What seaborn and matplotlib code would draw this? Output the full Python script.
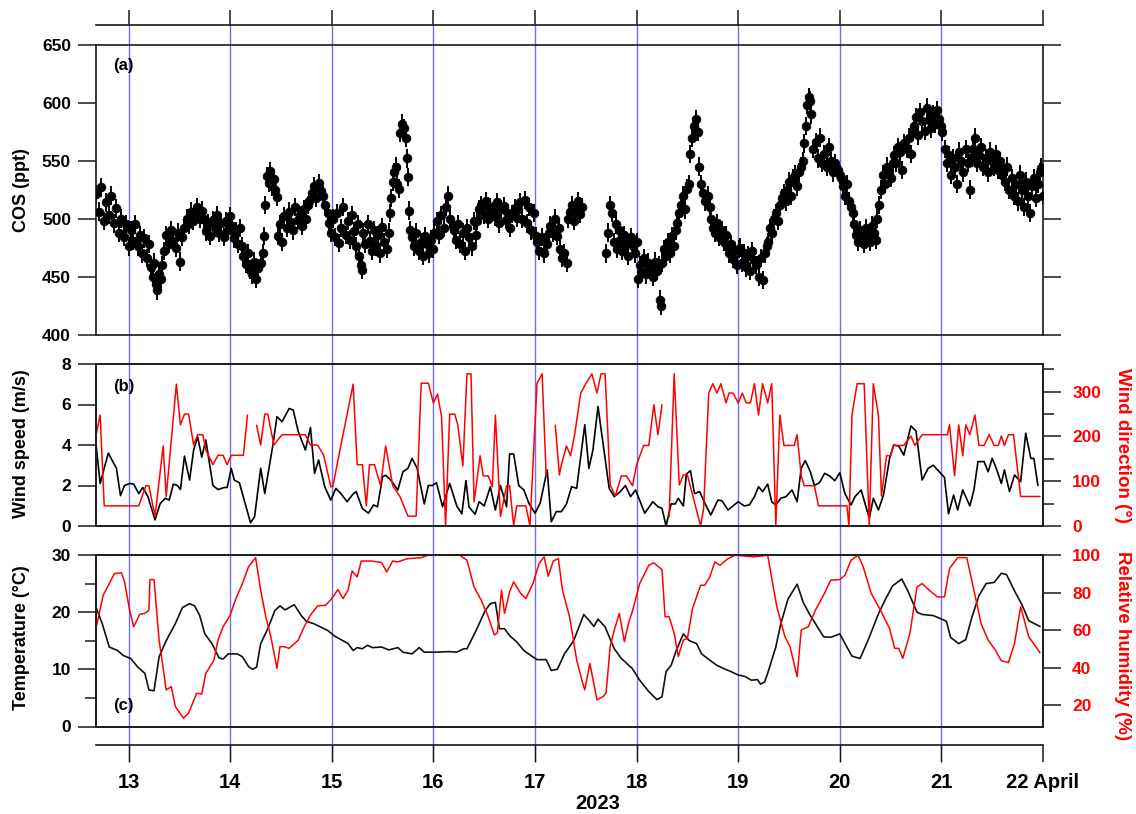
import numpy as np
import pandas as pd
import matplotlib
matplotlib.use("Agg")
import matplotlib.pyplot as plt
from matplotlib.ticker import MultipleLocator, FixedLocator
import seaborn as sns

# ---------------- data ----------------
day_ticks = [13, 14, 15, 16, 17, 18, 19, 20, 21, 22]
day_labels = ["13", "14", "15", "16", "17", "18", "19", "20", "21", "22 April"]
year_label = "2023"

# COS (ppt): time ranges (day of April) and values
cos_ranges = [
    (12.68, 13.00), (13.02, 13.20), (13.22, 13.33), (13.35, 13.53), (13.55, 13.72), (13.74, 14.00),
    (14.02, 14.12), (14.13, 14.32), (14.33, 14.46), (14.47, 14.77), (14.78, 14.96), (14.97, 15.26),
    (15.27, 15.30), (15.31, 15.56), (15.57, 15.66), (15.67, 15.73), (15.74, 15.76), (15.77, 16.00),
    (16.01, 16.19), (16.20, 16.42), (16.43, 16.82), (16.83, 17.01), (17.02, 17.14), (17.15, 17.24),
    (17.25, 17.31), (17.32, 17.46),
    (17.70, 17.83), (17.84, 18.00), (18.01, 18.22), (18.23, 18.24), (18.25, 18.39), (18.40, 18.52),
    (18.53, 18.60), (18.61, 18.72), (18.73, 18.88), (18.89, 19.01), (19.02, 19.28), (19.29, 19.47),
    (19.48, 19.64), (19.65, 19.72), (19.74, 20.00), (20.01, 20.13), (20.14, 20.36), (20.37, 20.52),
    (20.53, 20.72), (20.73, 21.00), (21.01, 21.30), (21.31, 21.60), (21.61, 21.97), (21.98, 22.00),
]
cos_values = [
    [521, 506, 527, 498, 514, 503, 520, 496, 509, 488, 500, 484, 495, 476],
    [490, 481, 495, 476, 486, 470, 483, 466, 478],
    [458, 450, 462, 444, 438, 452, 448, 460],
    [472, 486, 478, 490, 481, 475, 488, 463, 484],
    [492, 500, 495, 506, 498, 504, 510, 500, 507],
    [500, 489, 496, 485, 499, 492, 503, 488, 496, 484, 498, 490, 502],
    [494, 483, 489, 478, 492, 476],
    [468, 461, 470, 456, 452, 463, 448, 457, 462, 470],
    [485, 512, 537, 531, 541, 528, 534, 525, 519],
    [485, 495, 480, 502, 492, 506, 497, 490, 510, 499, 503, 494, 508, 500, 512],
    [515, 522, 528, 518, 531, 524, 520, 512, 505],
    [496, 488, 500, 484, 505, 479, 492, 510, 486, 498, 482, 503, 489, 476, 495],
    [468, 460, 456],
    [488, 478, 495, 481, 472, 490, 476, 486, 470, 493, 480, 474, 488],
    [505, 518, 532, 540, 545, 530, 526],
    [574, 582, 578, 570],
    [552, 536, 507],
    [490, 484, 476, 488, 472, 480, 468, 485, 478, 470, 482, 474],
    [488, 498, 486, 503, 492, 510, 520, 500, 494],
    [490, 482, 495, 478, 488, 472, 492, 484, 476, 498, 486],
    [498, 508, 512, 503, 515, 500, 510, 506, 502, 514, 496, 508, 511, 499, 505, 492, 504, 509, 501],
    [508, 514, 500, 516, 496, 510, 490, 505, 485],
    [480, 472, 484, 470, 478, 488],
    [494, 488, 500, 485, 492],
    [474, 466, 470, 462],
    [500, 506, 512, 498, 508, 515, 504, 510],
    [470, 488, 512, 505, 480, 495, 474, 490],
    [482, 472, 486, 478, 468, 484, 476, 470, 480],
    [448, 460, 454, 466, 452, 462, 457, 450, 463, 455, 460],
    [430, 425],
    [462, 474, 468, 480, 470, 485, 476, 490],
    [496, 505, 512, 520, 508, 526, 530],
    [556, 570, 580, 586, 575],
    [545, 530, 522, 515, 520, 510],
    [500, 492, 488, 496, 484, 490, 480, 486],
    [476, 470, 478, 465, 472, 460, 474],
    [475, 462, 470, 458, 468, 455, 472, 464, 460, 450, 466, 447, 470, 476],
    [480, 492, 488, 500, 505, 498, 512, 518, 522, 515],
    [525, 532, 520, 535, 538, 528, 540, 545, 550],
    [565, 580, 598, 605, 602, 590],
    [560, 566, 552, 570, 548, 556, 545, 562, 550, 540, 548, 542, 538],
    [535, 528, 520, 530, 515, 510, 505],
    [495, 486, 480, 490, 484, 478, 492, 486, 480, 494, 488, 482],
    [500, 512, 525, 538, 530, 545, 540, 535, 548],
    [555, 548, 562, 558, 542, 565, 560, 570, 556, 575],
    [580, 588, 572, 592, 584, 576, 596, 585, 578, 590, 582, 594, 586, 580],
    [575, 560, 548, 555, 538, 552, 545, 530, 558, 550, 540, 560, 548, 525, 553],
    [560, 570, 548, 555, 562, 545, 552, 540, 558, 550, 545, 556, 542, 550, 538],
    [540, 532, 545, 525, 535, 520, 530, 515, 538, 525, 510, 532, 520, 505, 528, 535, 518, 530, 540],
    [544, 520],
]
cos_unc = 8.0

# Wind speed (m/s)
ws_t = [12.68, 12.72, 12.80, 12.88, 12.92, 12.96, 13.01, 13.05, 13.10, 13.14, 13.19, 13.26, 13.31, 13.36,
        13.40, 13.44, 13.48, 13.51, 13.55, 13.60, 13.64, 13.68, 13.72, 13.76, 13.83, 13.88, 13.94, 13.97,
        14.01, 14.04, 14.09, 14.20, 14.24, 14.30, 14.34, 14.42, 14.46, 14.51, 14.58, 14.62, 14.67, 14.74,
        14.79, 14.83, 14.87, 14.93, 14.99, 15.04, 15.09, 15.15, 15.21, 15.24, 15.30, 15.36, 15.41, 15.45,
        15.50, 15.53, 15.58, 15.65, 15.70, 15.75, 15.79, 15.84, 15.91, 15.95, 15.99, 16.03, 16.09, 16.16,
        16.23, 16.28, 16.32, 16.35, 16.41, 16.45, 16.50, 16.56, 16.61, 16.66, 16.72, 16.75, 16.79, 16.84,
        16.89, 16.94, 17.00, 17.05, 17.12, 17.16, 17.21, 17.26, 17.31, 17.36, 17.41, 17.49, 17.53, 17.57,
        17.62, 17.73, 17.78, 17.84, 17.89, 17.94, 17.99, 18.08, 18.16, 18.21, 18.25, 18.29, 18.34, 18.38,
        18.41, 18.46, 18.49, 18.53, 18.57, 18.62, 18.68, 18.73, 18.80, 18.84, 18.90, 18.96, 19.00, 19.06,
        19.11, 19.16, 19.20, 19.24, 19.29, 19.33, 19.37, 19.42, 19.47, 19.53, 19.58, 19.62, 19.66, 19.71,
        19.75, 19.80, 19.85, 19.90, 19.95, 20.00, 20.05, 20.11, 20.15, 20.21, 20.29, 20.33, 20.38, 20.43,
        20.49, 20.53, 20.58, 20.63, 20.70, 20.75, 20.81, 20.87, 20.92, 20.97, 21.03, 21.07, 21.12, 21.16,
        21.21, 21.28, 21.32, 21.36, 21.42, 21.46, 21.50, 21.54, 21.59, 21.62, 21.67, 21.72, 21.78, 21.83,
        21.88, 21.91, 21.95]
ws_v = [4.0, 2.1, 3.6, 2.85, 1.5, 2.0, 2.1, 2.07, 1.6, 1.9, 1.45, 0.3, 1.1, 1.37,
        1.28, 2.07, 2.0, 1.8, 3.45, 2.27, 3.75, 4.4, 3.4, 4.25, 2.0, 1.8, 1.9, 1.9,
        2.85, 2.27, 2.14, 0.16, 0.46, 2.85, 1.6, 4.0, 5.4, 5.15, 5.8, 5.73, 4.66, 3.75,
        4.87, 2.6, 3.26, 1.94, 1.28, 1.86, 1.6, 1.2, 1.58, 1.7, 0.87, 0.63, 1.04, 0.95,
        2.44, 2.5, 2.27, 1.78, 2.68, 2.85, 3.34, 2.85, 1.09, 2.0, 2.0, 2.14, 0.95, 2.1,
        0.99, 0.6, 2.24, 0.95, 0.58, 1.2, 0.99, 1.94, 0.79, 2.0, 0.95, 3.56, 3.56, 2.0,
        1.78, 1.12, 0.63, 1.12, 2.77, 0.21, 0.71, 0.71, 1.09, 1.94, 1.86, 5.0, 2.85, 3.75,
        5.9, 1.86, 1.45, 1.7, 2.0, 1.45, 1.78, 0.63, 1.2, 0.95, 0.87, 0.0, 1.09, 1.09,
        1.37, 0.99, 2.57, 2.73, 1.6, 1.7, 1.04, 0.54, 1.28, 1.25, 0.79, 1.04, 1.2, 0.99,
        1.04, 1.45, 1.94, 1.7, 2.07, 1.2, 1.04, 1.37, 1.45, 1.78, 1.2, 2.85, 3.23, 2.68,
        2.0, 2.14, 2.6, 2.47, 2.24, 2.63, 1.6, 1.04, 1.45, 1.78, 0.38, 1.37, 0.79, 1.53,
        3.34, 4.0, 3.95, 3.5, 4.94, 4.69, 2.27, 2.85, 3.0, 2.73, 2.4, 0.6, 1.53, 0.79,
        1.78, 0.99, 1.78, 3.18, 3.18, 2.68, 3.34, 2.85, 2.1, 2.77, 1.7, 2.52, 2.19, 4.58,
        3.34, 3.34, 2.0]

# Wind direction (deg); NaN marks a break in the record
wd_t = [12.68, 12.72, 12.76, 13.10, 13.17, 13.20, 13.26, 13.34, 13.37, 13.47, 13.51, 13.55, 13.59, 13.64,
        13.68, 13.73, 13.76, 13.83, 13.88, 13.93, 13.97, 14.01, 14.13, 14.17, 14.21,
        14.26, 14.30, 14.34, 14.37, 14.43, 14.51, 14.74, 14.79, 14.86, 14.92, 14.99, 15.01, 15.07, 15.21,
        15.25, 15.30, 15.34, 15.37, 15.42, 15.48, 15.53, 15.60, 15.67, 15.75, 15.83, 15.88, 15.95, 16.00,
        16.04, 16.08, 16.12, 16.16, 16.21, 16.24, 16.29, 16.33, 16.37, 16.40, 16.46, 16.49, 16.54, 16.58,
        16.61, 16.66, 16.72, 16.75, 16.79, 16.82, 16.91, 16.95, 17.02, 17.07, 17.11, 17.15,
        17.20, 17.24, 17.26, 17.31, 17.35, 17.39, 17.45, 17.50, 17.56, 17.61, 17.65, 17.69, 17.74, 17.79,
        17.85, 17.90, 17.96, 18.00, 18.07, 18.12, 18.17, 18.21, 18.25, 18.28,
        18.32, 18.37, 18.42, 18.46, 18.50, 18.63, 18.66, 18.71, 18.75, 18.79, 18.83, 18.88, 18.91, 18.95,
        19.00, 19.04, 19.08, 19.12, 19.16, 19.20, 19.24, 19.29, 19.33, 19.37, 19.41, 19.45, 19.55, 19.58,
        19.62, 19.65, 19.75, 19.79, 20.07, 20.09, 20.12, 20.17, 20.24, 20.29, 20.33, 20.38, 20.41, 20.46,
        20.50, 20.53, 20.63, 20.70, 20.74, 20.81, 21.06, 21.08, 21.13, 21.17, 21.21, 21.24, 21.28, 21.33,
        21.37, 21.42, 21.47, 21.52, 21.56, 21.59, 21.62, 21.66, 21.71, 21.78, 21.97]
wd_v = [204, 248, 45, 45, 90, 90, 21, 179, 66, 317, 226, 250, 250, 181,
        204, 204, 170, 137, 158, 158, 137, 158, 158, 248, np.nan,
        225, 181, 250, 250, 181, 204, 204, 181, 181, 158, 88, 88, 158, 317,
        137, 137, 45, 137, 137, 90, 179, 90, 66, 22, 22, 319, 319, 275,
        295, 245, 0, 250, 250, 226, 134, 340, 340, 54, 157, 112, 112, 88,
        248, 21, 90, 90, 0, 45, 45, 0, 319, 340, 112, np.nan,
        225, 114, 137, 179, 157, 204, 297, 318, 340, 297, 340, 340, 92, 67,
        112, 112, 90, 137, 180, 180, 271, 204, 271, np.nan,
        21, 340, 92, 114, 114, 0, 40, 297, 318, 297, 318, 275, 297, 297,
        275, 297, 275, 275, 318, 248, 318, 275, 318, 0, 248, 180, 180, 204,
        112, 90, 90, 45, 45, 0, 248, 318, 318, 0, 318, 248, 67, 157,
        157, 180, 180, 201, 180, 204, 204, 226, 112, 226, 157, 226, 204, 248,
        180, 180, 204, 180, 180, 201, 180, 204, 204, 66, 66]

# Temperature (deg C)
temp_t = [12.68, 12.74, 12.81, 12.89, 12.95, 13.02, 13.09, 13.16, 13.20, 13.25, 13.30, 13.37, 13.46, 13.53,
          13.60, 13.65, 13.70, 13.75, 13.82, 13.89, 13.93, 13.98, 14.07, 14.12, 14.18, 14.22, 14.26, 14.30,
          14.37, 14.44, 14.49, 14.54, 14.58, 14.63, 14.70, 14.75, 14.82, 14.89, 14.96, 15.02, 15.09, 15.16,
          15.21, 15.25, 15.30, 15.35, 15.40, 15.49, 15.56, 15.65, 15.70, 15.79, 15.86, 15.91, 16.02, 16.16,
          16.23, 16.30, 16.33, 16.42, 16.51, 16.56, 16.61, 16.65, 16.70, 16.75, 16.82, 16.89, 16.96, 17.02,
          17.11, 17.16, 17.22, 17.29, 17.38, 17.48, 17.52, 17.58, 17.62, 17.69, 17.78, 17.85, 17.96, 18.03,
          18.12, 18.20, 18.25, 18.29, 18.34, 18.39, 18.46, 18.52, 18.59, 18.64, 18.72, 18.79, 18.86, 18.93,
          19.00, 19.06, 19.13, 19.19, 19.22, 19.26, 19.29, 19.37, 19.42, 19.49, 19.58, 19.64, 19.71, 19.76,
          19.84, 19.91, 20.00, 20.07, 20.12, 20.20, 20.29, 20.38, 20.45, 20.52, 20.61, 20.67, 20.76, 20.81,
          20.92, 21.00, 21.05, 21.09, 21.17, 21.24, 21.30, 21.37, 21.44, 21.52, 21.59, 21.64, 21.72, 21.79,
          21.86, 21.97]
temp_v = [20.8, 18.0, 13.9, 13.3, 12.4, 11.9, 10.4, 9.3, 6.4, 6.25, 12.2, 15.0, 18.0, 20.8,
          21.5, 21.1, 19.4, 16.2, 14.5, 12.0, 11.8, 12.7, 12.7, 12.2, 10.5, 10.0, 10.4, 14.5,
          17.1, 20.3, 21.1, 20.4, 20.8, 21.3, 19.4, 18.4, 18.0, 17.4, 16.8, 15.9, 15.2, 14.5,
          13.3, 13.8, 13.6, 14.2, 13.8, 13.9, 13.4, 13.8, 13.0, 12.7, 13.8, 13.0, 13.0, 13.1,
          13.0, 13.6, 13.6, 16.8, 20.3, 21.5, 21.7, 17.1, 17.1, 15.9, 14.8, 13.3, 12.4, 11.7,
          11.7, 9.8, 10.0, 12.7, 15.0, 19.6, 18.8, 17.5, 18.8, 17.4, 13.6, 11.9, 10.1, 8.1,
          6.1, 4.7, 5.2, 9.6, 10.7, 13.3, 16.2, 15.0, 14.5, 12.7, 11.6, 10.7, 10.1, 9.6,
          9.0, 8.8, 8.1, 8.2, 7.4, 7.8, 9.3, 13.9, 18.0, 22.3, 24.9, 21.7, 19.4, 18.0,
          15.7, 15.6, 16.2, 13.9, 12.3, 11.9, 15.6, 19.7, 22.3, 24.6, 25.8, 23.7, 20.0, 19.6,
          19.4, 18.8, 18.4, 15.6, 14.5, 15.2, 19.1, 22.9, 25.0, 25.2, 26.8, 26.6, 23.7, 21.4,
          18.5, 17.5]

# Relative humidity (%)
rh_t = [12.68, 12.75, 12.86, 12.93, 12.96, 13.01, 13.05, 13.11, 13.16, 13.20, 13.21, 13.25, 13.30, 13.37,
        13.42, 13.46, 13.54, 13.59, 13.67, 13.72, 13.76, 13.84, 13.88, 13.93, 14.00, 14.05, 14.12, 14.18,
        14.25, 14.30, 14.35, 14.40, 14.46, 14.49, 14.53, 14.58, 14.67, 14.72, 14.79, 14.86, 14.94, 15.00,
        15.06, 15.11, 15.16, 15.20, 15.25, 15.29, 15.39, 15.49, 15.54, 15.60, 15.65, 15.74, 15.88, 15.95,
        16.26, 16.33, 16.40, 16.47, 16.54, 16.60, 16.63, 16.67, 16.70, 16.75, 16.79, 16.86, 16.91, 16.98,
        17.04, 17.09, 17.13, 17.18, 17.23, 17.27, 17.34, 17.41, 17.47, 17.49, 17.54, 17.61, 17.67, 17.70,
        17.74, 17.78, 17.83, 17.88, 17.92, 17.96, 18.03, 18.12, 18.17, 18.25, 18.28, 18.32, 18.37, 18.41,
        18.46, 18.50, 18.55, 18.63, 18.67, 18.72, 18.77, 18.82, 18.90, 18.97, 19.15, 19.20, 19.29, 19.38,
        19.46, 19.51, 19.58, 19.62, 19.69, 19.76, 19.84, 19.91, 20.00, 20.05, 20.11, 20.18, 20.23, 20.31,
        20.40, 20.49, 20.54, 20.58, 20.62, 20.69, 20.76, 20.81, 20.88, 20.96, 21.03, 21.08, 21.16, 21.25,
        21.32, 21.39, 21.46, 21.53, 21.59, 21.66, 21.72, 21.78, 21.86, 21.97]
rh_v = [61.4, 78.6, 90.1, 90.6, 85.7, 70.6, 61.8, 68.5, 68.9, 70.6, 86.9, 86.9, 54.7, 28.2,
        29.9, 19.3, 13.1, 15.8, 26.4, 26.0, 37.0, 44.1, 54.7, 61.8, 68.0, 76.0, 84.8, 93.7,
        98.6, 81.3, 67.1, 56.5, 39.7, 51.2, 51.2, 50.3, 54.7, 60.9, 68.0, 72.9, 73.3, 76.8,
        81.6, 76.8, 81.3, 91.5, 88.3, 96.8, 96.8, 96.0, 91.0, 96.8, 96.3, 98.0, 98.6, 99.9,
        99.9, 97.2, 83.0, 76.0, 67.1, 57.4, 58.6, 81.3, 68.9, 80.4, 85.7, 79.5, 76.8, 84.8,
        95.4, 99.0, 88.7, 96.8, 98.1, 81.3, 67.1, 44.1, 31.7, 28.2, 42.3, 22.9, 24.6, 26.8,
        51.2, 60.0, 68.9, 53.8, 63.6, 70.3, 84.8, 94.5, 95.8, 92.2, 67.1, 67.1, 58.3, 45.9,
        54.7, 55.6, 71.5, 83.9, 83.9, 88.3, 96.3, 94.5, 98.1, 99.9, 99.0, 99.3, 99.9, 72.4,
        56.5, 51.2, 35.2, 60.0, 61.8, 70.6, 78.6, 86.6, 86.9, 89.2, 97.2, 99.9, 93.7, 79.5,
        70.6, 60.9, 50.3, 50.3, 45.0, 58.3, 83.0, 84.8, 81.3, 77.7, 77.7, 92.8, 98.6, 98.6,
        81.3, 63.6, 54.7, 49.4, 43.7, 42.7, 53.0, 72.4, 56.5, 48.0]

# ---------------- build tables ----------------
cos_t = np.concatenate([np.linspace(a, b, len(v)) for (a, b), v in zip(cos_ranges, cos_values)])
cos_v = np.concatenate([np.asarray(v, float) for v in cos_values])
cos_df = pd.DataFrame({"t": cos_t, "cos": cos_v})

ws_df = pd.DataFrame({"t": ws_t, "v": ws_v})
wd_arr = np.asarray(wd_v, float)
wd_df = pd.DataFrame({"t": wd_t, "v": wd_arr, "seg": np.cumsum(np.isnan(wd_arr))}).dropna()
temp_df = pd.DataFrame({"t": temp_t, "v": temp_v})
rh_df = pd.DataFrame({"t": rh_t, "v": rh_v})

# ---------------- style ----------------
sns.set_theme(style="ticks")
plt.rcParams["font.family"] = ["Liberation Sans", "DejaVu Sans"]
plt.rcParams["font.weight"] = "bold"
plt.rcParams["axes.labelweight"] = "bold"
for key in ("text.color", "axes.labelcolor", "xtick.color", "ytick.color", "axes.edgecolor"):
    plt.rcParams[key] = "black"

W_PX, H_PX = 1136, 814
def fx(x):
    return x / W_PX
def fy(y):
    return 1 - y / H_PX

X0, X1 = 96, 1043
XLIM = (12.679, 22.0)
BLUE = "#6f6fff"
RED = "#ff0000"
SPINE_W = 1.2
TICK_FS = 12.5

fig = plt.figure(figsize=(W_PX / 100, H_PX / 100), dpi=100)

def add_px_axes(top, bottom):
    return fig.add_axes([fx(X0), fy(bottom), fx(X1) - fx(X0), fy(top) - fy(bottom)])

# background axes carrying the daily blue lines
bg = add_px_axes(25, 762)
bg.set_xlim(*XLIM)
bg.set_ylim(0, 1)
bg.axis("off")
for d in day_ticks[:-1]:
    bg.axvline(d, color=BLUE, lw=1.0)

def style_axes(ax):
    ax.set_facecolor("none")
    ax.set_xlim(*XLIM)
    for s in ax.spines.values():
        s.set_linewidth(SPINE_W)
        s.set_color("#1a1a1a")
    ax.tick_params(axis="x", bottom=False, top=False, labelbottom=False)
    ax.tick_params(axis="y", direction="out", length=13, width=1.1, labelsize=TICK_FS, pad=5,
                   color="#1a1a1a", labelcolor="black")
    ax.set_xlabel("")
    ax.set_ylabel("")

# ---- panel (a): COS ----
ax_a = add_px_axes(45, 334.5)
ax_a.errorbar(cos_df["t"], cos_df["cos"], yerr=cos_unc, fmt="none", ecolor="black",
              elinewidth=1.4, capsize=0, zorder=2)
sns.scatterplot(data=cos_df, x="t", y="cos", ax=ax_a, color="black", s=40,
                edgecolor="black", linewidth=0.5, zorder=3, legend=False)
style_axes(ax_a)
ax_a.set_ylim(400, 650)
ax_a.yaxis.set_major_locator(MultipleLocator(50))
ax_a.tick_params(axis="y", left=True, right=True, labelleft=True, labelright=False)
ax_a.text(0.018, 0.93, "(a)", transform=ax_a.transAxes, fontsize=12, fontweight="bold",
          ha="left", va="center")

# ---- panel (b): wind ----
ax_b = add_px_axes(364, 526)
sns.lineplot(data=ws_df, x="t", y="v", ax=ax_b, color="black", lw=1.2,
             estimator=None, errorbar=None, sort=False)
style_axes(ax_b)
ax_b.set_ylim(0, 8)
ax_b.yaxis.set_major_locator(MultipleLocator(2))
ax_b.text(0.018, 0.86, "(b)", transform=ax_b.transAxes, fontsize=12, fontweight="bold",
          ha="left", va="center")

ax_b2 = ax_b.twinx()
sns.lineplot(data=wd_df, x="t", y="v", units="seg", ax=ax_b2, color=RED, lw=1.1,
             estimator=None, errorbar=None, sort=False)
style_axes(ax_b2)
ax_b2.set_ylim(0, 362)
ax_b2.yaxis.set_major_locator(MultipleLocator(100))
ax_b2.yaxis.set_minor_locator(FixedLocator([50, 150, 250, 350]))
ax_b2.tick_params(axis="y", which="major", left=False, right=True, labelleft=False,
                  labelright=True, labelcolor=RED, length=13, pad=8)
ax_b2.tick_params(axis="y", which="minor", left=False, right=True, direction="out",
                  length=8, width=1.1, color="#1a1a1a")

# ---- panel (c): temperature / RH ----
ax_c = add_px_axes(555, 726.5)
sns.lineplot(data=temp_df, x="t", y="v", ax=ax_c, color="#111111", lw=1.2,
             estimator=None, errorbar=None, sort=False)
style_axes(ax_c)
ax_c.set_ylim(0, 30)
ax_c.yaxis.set_major_locator(MultipleLocator(10))
ax_c.yaxis.set_minor_locator(MultipleLocator(5))
ax_c.tick_params(axis="y", which="minor", left=True, direction="out", length=8, width=1.1,
                 color="#1a1a1a")
ax_c.text(0.018, 0.12, "(c)", transform=ax_c.transAxes, fontsize=12, fontweight="bold",
          ha="left", va="center")

ax_c2 = ax_c.twinx()
sns.lineplot(data=rh_df, x="t", y="v", ax=ax_c2, color=RED, lw=1.1,
             estimator=None, errorbar=None, sort=False)
style_axes(ax_c2)
ax_c2.set_ylim(8.7, 100)
ax_c2.yaxis.set_major_locator(FixedLocator([20, 40, 60, 80, 100]))
ax_c2.tick_params(axis="y", which="major", left=False, right=True, labelleft=False,
                  labelright=True, labelcolor=RED, length=13, pad=8)

# ---- top date axis ----
ax_top = add_px_axes(10, 25)
ax_top.set_facecolor("none")
ax_top.set_xlim(*XLIM)
for k in ("top", "left", "right"):
    ax_top.spines[k].set_visible(False)
ax_top.spines["bottom"].set_linewidth(SPINE_W)
ax_top.spines["bottom"].set_color("#1a1a1a")
ax_top.set_yticks([])
ax_top.set_xticks(day_ticks)
ax_top.tick_params(axis="x", direction="in", length=11, width=1.1, labelbottom=False,
                   color="#1a1a1a")

# ---- bottom date axis ----
ax_bot = add_px_axes(744, 745)
ax_bot.set_facecolor("none")
ax_bot.set_xlim(*XLIM)
for k in ("top", "left", "right"):
    ax_bot.spines[k].set_visible(False)
ax_bot.spines["bottom"].set_linewidth(SPINE_W)
ax_bot.spines["bottom"].set_color("#1a1a1a")
ax_bot.set_yticks([])
ax_bot.set_xticks(day_ticks)
ax_bot.set_xticklabels(day_labels)
ax_bot.tick_params(axis="x", direction="out", length=12, width=1.1, pad=8, labelsize=14.5,
                   color="#1a1a1a", labelcolor="black")
for tk, d in zip(ax_bot.xaxis.get_major_ticks(), day_ticks):
    if d < 22:
        tk.tick1line.set_color(BLUE)
        tk.tick1line.set_markeredgewidth(1.0)
ax_bot.set_xlabel(year_label, fontsize=14.5, fontweight="bold", va="center")
ax_bot.xaxis.set_label_coords((598 - X0) / (X1 - X0), -58.0)

# ---- axis titles ----
fig.text(fx(22), fy(190), "COS (ppt)", rotation=90, ha="center", va="center",
         fontsize=13, fontweight="bold")
fig.text(fx(22), fy(444), "Wind speed (m/s)", rotation=90, ha="center", va="center",
         fontsize=13, fontweight="bold")
fig.text(fx(22), fy(638), "Temperature (°C)", rotation=90, ha="center", va="center",
         fontsize=13, fontweight="bold")
fig.text(fx(1123), fy(445), "Wind direction (°)", rotation=270, ha="center", va="center",
         fontsize=13.5, fontweight="bold", color=RED)
fig.text(fx(1123), fy(646), "Relative humidity (%)", rotation=270, ha="center", va="center",
         fontsize=13.5, fontweight="bold", color=RED)

fig.savefig("out.png", dpi=100)
